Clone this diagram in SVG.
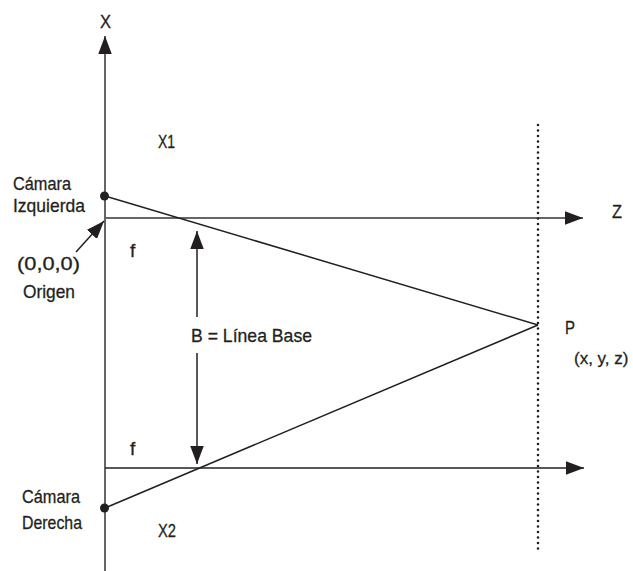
<svg xmlns="http://www.w3.org/2000/svg" width="633" height="571" viewBox="0 0 633 571">
<style>
text{font-family:"Liberation Sans",Arial,sans-serif;font-size:19px;fill:#231f20;stroke:#231f20;stroke-width:0.3}
.axis{stroke:#666;stroke-width:2;fill:none}
.ray{stroke:#231f20;stroke-width:1.5;fill:none}
.dim{stroke:#231f20;stroke-width:1.5;fill:none}
.dots{stroke:#231f20;stroke-width:2.6;stroke-linecap:round;stroke-dasharray:0 5.5;fill:none}
</style>
<defs>
<marker id="ah" markerUnits="userSpaceOnUse" markerWidth="18" markerHeight="14" viewBox="0 0 16 12" refX="16" refY="6" orient="auto">
<path d="M0,0 L16,6 L0,12 Z" fill="#231f20"/>
</marker>
</defs>
<g id="connectors">
<line class="axis" x1="105" y1="571" x2="105" y2="36" marker-end="url(#ah)"/>
<line class="axis" x1="105" y1="218" x2="583" y2="218" marker-end="url(#ah)"/>
<line class="ray" x1="105" y1="468" x2="584" y2="468" marker-end="url(#ah)"/>
<line class="ray" x1="105" y1="196" x2="538" y2="325"/>
<line class="ray" x1="105" y1="508" x2="538" y2="325"/>
<line class="dim" x1="197" y1="317" x2="197" y2="231" marker-end="url(#ah)"/>
<line class="dim" x1="197" y1="353" x2="197" y2="464" marker-end="url(#ah)"/>
<line class="dim" x1="76" y1="252" x2="104" y2="221" marker-end="url(#ah)"/>
<line class="dots" x1="538" y1="125" x2="538" y2="552"/>
</g>
<g id="camara-izquierda">
<circle cx="104.5" cy="196" r="4.5" fill="#231f20"/>
<text x="13" y="190" textLength="58" lengthAdjust="spacingAndGlyphs">Cámara</text>
<text x="13" y="212" textLength="72" lengthAdjust="spacingAndGlyphs">Izquierda</text>
</g>
<g id="camara-derecha">
<circle cx="104.5" cy="508" r="4.5" fill="#231f20"/>
<text x="22" y="503" textLength="58" lengthAdjust="spacingAndGlyphs">Cámara</text>
<text x="22" y="529" textLength="60" lengthAdjust="spacingAndGlyphs">Derecha</text>
</g>
<g id="origen">
<text x="17" y="270" textLength="63" lengthAdjust="spacingAndGlyphs">(0,0,0)</text>
<text x="23" y="298" textLength="52" lengthAdjust="spacingAndGlyphs">Origen</text>
</g>
<g id="punto-p">
<text x="565" y="334" textLength="10" lengthAdjust="spacingAndGlyphs">P</text>
<text x="574" y="364" style="font-size:17px">(x, y, z)</text>
</g>
<g id="labels">
<text x="100" y="28" textLength="11" lengthAdjust="spacingAndGlyphs">X</text>
<text x="612" y="218" textLength="10" lengthAdjust="spacingAndGlyphs">Z</text>
<text x="158" y="148" textLength="17" lengthAdjust="spacingAndGlyphs">X1</text>
<text x="158" y="537" textLength="18" lengthAdjust="spacingAndGlyphs">X2</text>
<text x="130" y="257">f</text>
<text x="130" y="455">f</text>
<text x="191" y="342" textLength="121" lengthAdjust="spacingAndGlyphs">B = Línea Base</text>
</g>
</svg>
